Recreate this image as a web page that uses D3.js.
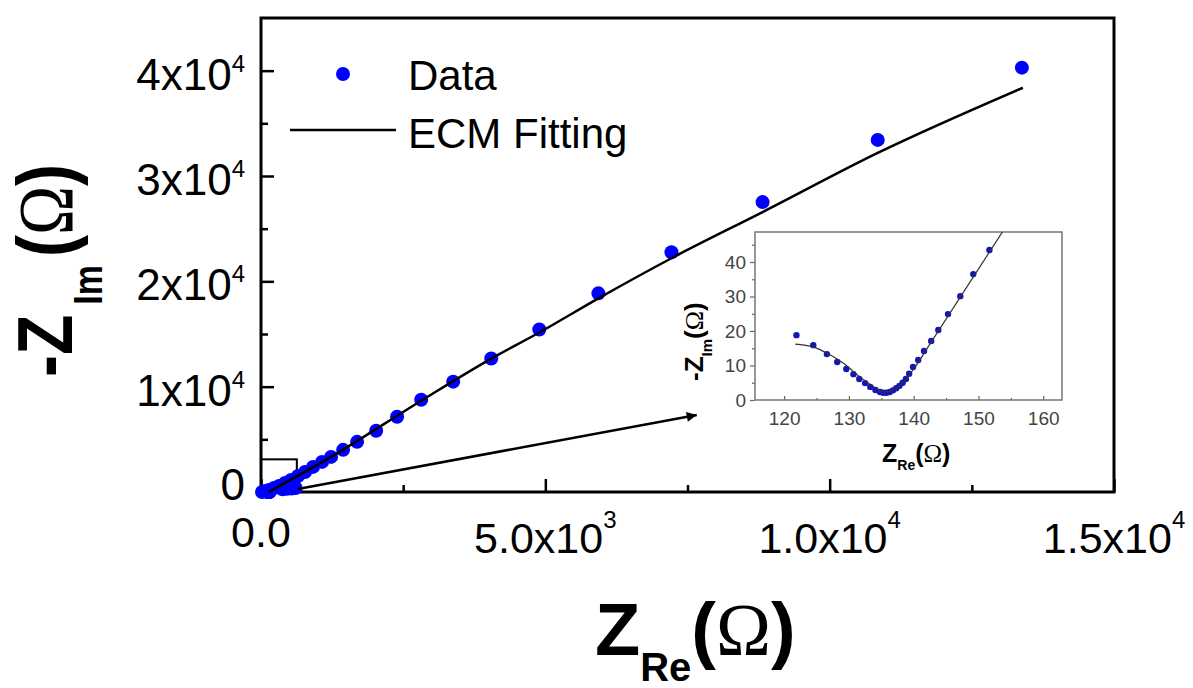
<!DOCTYPE html>
<html><head><meta charset="utf-8">
<script src="https://cdn.jsdelivr.net/npm/d3@7"></script>
<style>body{margin:0;background:#fff}svg{display:block}</style>
</head><body>
<svg id="c" width="1193" height="688"></svg>
<script>
// ---- data ----
const dataRe = [18, 70, 141, 229, 317, 423, 528, 651, 775, 915, 1074, 1232, 1444, 1690, 2025, 2394, 2817, 3380, 4049, 4894, 5933, 7218, 8820, 10845, 13380];
const dataIm = [0, 95, 190, 381, 571, 857, 1143, 1524, 1905, 2381, 2857, 3333, 4000, 4762, 5810, 7143, 8762, 10476, 12667, 15429, 18857, 22762, 27524, 33429, 40286];
const extraRe = [380, 460, 540, 610];
const extraIm = [250, 300, 330, 380];
const fitRe = [135, 1232, 2817, 4049, 4894, 5933, 7218, 8820, 10845, 13398];
const fitIm = [0, 3333, 8667, 12667, 15140, 18380, 22190, 26571, 32190, 38380];

const insetRe = [121.9, 124.5, 126.6, 128.2, 129.6, 130.7, 131.6, 132.5, 133.3, 134.1, 134.8, 135.3, 135.8, 136.3, 136.8, 137.3, 137.8, 138.3, 138.8, 139.3, 139.9, 140.7, 141.6, 142.7, 143.8, 145.3, 147.2, 149.2, 151.7];
const insetIm = [18.8, 15.9, 13.3, 11.0, 9.0, 7.5, 6.1, 4.9, 3.8, 2.9, 2.3, 2.1, 2.1, 2.3, 2.8, 3.4, 4.1, 5.0, 6.1, 7.6, 9.6, 11.6, 14.2, 17.1, 20.3, 24.9, 30.1, 36.5, 43.5];
const insetFitRe = [121.7, 124.5, 126.6, 129.1, 131.7, 134.1, 135.1, 136.4, 137.9, 139.9, 142.5, 153.8];
const insetFitIm = [16.2, 15.4, 13.6, 10.7, 6.7, 3.5, 2.3, 2.6, 4.3, 8.7, 16.2, 49];

const xMajor = [0, 5000, 10000, 15000];
const xMinor = [2500, 7500, 12500];
const xTickText = ["0.0", "5.0x10", "1.0x10", "1.5x10"];
const xTickExp = ["", "3", "4", "4"];
const yMajor = [0, 10000, 20000, 30000, 40000];
const yMinor = [5000, 15000, 25000, 35000];
const yTickText = ["0", "1x10", "2x10", "3x10", "4x10"];
const yTickExp = ["", "4", "4", "4", "4"];
const insetXTicks = [120, 130, 140, 150, 160];
const insetXMinor = [125, 135, 145, 155];
const insetYTicks = [0, 10, 20, 30, 40];
const insetYMinor = [5, 15, 25, 35, 45];
const zoomBox = [630, 3100]; // region marked near the origin
const arrowTip = [7663, 7312];

const legendLabels = ["Data", "ECM Fitting"];

// ---- drawing ----
const svg = d3.select("#c");
const SANS = "'Liberation Sans', Arial, sans-serif";
const SERIF = "'Liberation Serif', 'Times New Roman', serif";
const BLUE = "#0000ff";

const x = d3.scaleLinear().domain([0, 15000]).range([261, 1114]);
const y = d3.scaleLinear().domain([0, 45000]).range([492, 18]);

// axes (inward ticks)
function styleAxis(g){ g.select(".domain").remove(); g.selectAll("line").attr("stroke","#000").attr("stroke-width",2.5); }
svg.append("g").attr("transform",`translate(0,${y(0)})`)
  .call(d3.axisBottom(x).tickValues(xMajor).tickSize(-13).tickFormat("")).call(styleAxis);
svg.append("g").attr("transform",`translate(0,${y(0)})`)
  .call(d3.axisBottom(x).tickValues(xMinor).tickSize(-7).tickFormat("")).call(styleAxis);
svg.append("g").attr("transform",`translate(${x(0)},0)`)
  .call(d3.axisLeft(y).tickValues(yMajor).tickSize(-13).tickFormat("")).call(styleAxis);
svg.append("g").attr("transform",`translate(${x(0)},0)`)
  .call(d3.axisLeft(y).tickValues(yMinor).tickSize(-7).tickFormat("")).call(styleAxis);

// frame
svg.append("rect").attr("x",x(0)).attr("y",y(45000)).attr("width",x(15000)-x(0)).attr("height",y(0)-y(45000))
  .attr("fill","none").attr("stroke","#000").attr("stroke-width",3);

// tick labels
xMajor.forEach((v,i)=>{
  const t = svg.append("text").attr("x",x(v)).attr("y", y(0) + (xTickExp[i] ? 61 : 55))
    .attr("text-anchor","middle").attr("font-family",SANS).attr("font-size",43).attr("fill","#000");
  t.append("tspan").text(xTickText[i]);
  if (xTickExp[i]) t.append("tspan").attr("dy",-25).attr("font-size",24).text(xTickExp[i]);
});
yMajor.forEach((v,i)=>{
  const t = svg.append("text").attr("x",245).attr("y", y(v) + (yTickExp[i] ? 19 : 8))
    .attr("text-anchor","end").attr("font-family",SANS).attr("font-size",44).attr("fill","#000");
  t.append("tspan").text(yTickText[i]);
  if (yTickExp[i]) t.append("tspan").attr("dy",-18).attr("font-size",24).text(yTickExp[i]);
});

// zoom box
svg.append("rect").attr("x",x(0)).attr("y",y(zoomBox[1])).attr("width",x(zoomBox[0])-x(0)).attr("height",y(0)-y(zoomBox[1]))
  .attr("fill","none").attr("stroke","#000").attr("stroke-width",2);

// data points
const pts = dataRe.map((d,i)=>[d,dataIm[i]])
  .concat(extraRe.map((d,i)=>[d,extraIm[i]]))
  .concat(insetRe.map((d,i)=>[d,insetIm[i]]));
svg.append("g").selectAll("circle").data(pts).join("circle")
  .attr("cx",d=>x(d[0])).attr("cy",d=>y(d[1])).attr("r",7).attr("fill",BLUE);

// fit line
svg.append("path").datum(fitRe.map((d,i)=>[d,fitIm[i]]))
  .attr("d", d3.line().x(d=>x(d[0])).y(d=>y(d[1])).curve(d3.curveMonotoneX))
  .attr("fill","none").attr("stroke","#000").attr("stroke-width",2.5);

// arrow
svg.append("defs").append("marker").attr("id","ah").attr("viewBox","0 0 10 10").attr("refX",10).attr("refY",5)
  .attr("markerWidth",16).attr("markerHeight",10).attr("markerUnits","userSpaceOnUse").attr("orient","auto")
  .append("path").attr("d","M0,0 L10,5 L0,10 Z").attr("fill","#000");
svg.append("line").attr("x1",x(zoomBox[0])+1).attr("y1",y(0)-3).attr("x2",x(arrowTip[0])).attr("y2",y(arrowTip[1]))
  .attr("stroke","#000").attr("stroke-width",2.5).attr("marker-end","url(#ah)");

// legend
svg.append("circle").attr("cx",343).attr("cy",74).attr("r",7).attr("fill",BLUE);
svg.append("text").attr("x",408).attr("y",90).attr("font-family",SANS).attr("font-size",42).text(legendLabels[0]);
svg.append("line").attr("x1",290).attr("x2",396).attr("y1",130).attr("y2",130).attr("stroke","#000").attr("stroke-width",2.5);
svg.append("text").attr("x",408).attr("y",148).attr("font-family",SANS).attr("font-size",42).text(legendLabels[1]);

// axis titles
const xt = svg.append("text").attr("x",595).attr("y",655).attr("font-family",SANS).attr("font-weight","bold").attr("font-size",74);
xt.append("tspan").text("Z");
xt.append("tspan").attr("dy",26).attr("font-size",40).text("Re");
xt.append("tspan").attr("dy",-26).text("(");
xt.append("tspan").attr("font-family",SERIF).attr("font-weight","normal").text("Ω");
xt.append("tspan").text(")");

const yt = svg.append("text").attr("transform","translate(72,377) rotate(-90) scale(1,1.17)")
  .attr("font-family",SANS).attr("font-weight","bold").attr("font-size",66);
yt.append("tspan").text("-Z");
yt.append("tspan").attr("dx",10).attr("dy",26).attr("font-size",34).text("Im");
yt.append("tspan").attr("dx",8).attr("dy",-26).text("(");
yt.append("tspan").attr("font-family",SERIF).attr("font-weight","normal").text("Ω");
yt.append("tspan").text(")");

// ---- inset ----
const ix = d3.scaleLinear().domain([115.5, 162.9]).range([755, 1062]);
const iy = d3.scaleLinear().domain([0, 48.7]).range([400, 232]);
const inset = svg.append("g");
inset.append("rect").attr("x",755).attr("y",232).attr("width",1062-755).attr("height",400-232).attr("fill","#fff");
inset.append("clipPath").attr("id","ic").append("rect").attr("x",755).attr("y",232).attr("width",1062-755).attr("height",400-232);

function styleInset(g){ g.select(".domain").remove(); g.selectAll("line").attr("stroke","#666").attr("stroke-width",1.2);
  g.selectAll("text").attr("font-family",SANS).attr("font-size",19).attr("fill","#444"); }
inset.append("g").attr("transform","translate(0,400)")
  .call(d3.axisBottom(ix).tickValues(insetXTicks).tickSize(-4).tickPadding(12).tickFormat(d3.format("d"))).call(styleInset);
inset.append("g").attr("transform","translate(0,400)")
  .call(d3.axisBottom(ix).tickValues(insetXMinor).tickSize(-2).tickFormat("")).call(styleInset);
inset.append("g").attr("transform","translate(755,0)")
  .call(d3.axisLeft(iy).tickValues(insetYTicks).tickSize(5).tickPadding(4).tickFormat(d3.format("d"))).call(styleInset);
inset.append("g").attr("transform","translate(755,0)")
  .call(d3.axisLeft(iy).tickValues(insetYMinor).tickSize(3).tickFormat("")).call(styleInset);
inset.append("rect").attr("x",755).attr("y",232).attr("width",1062-755).attr("height",400-232)
  .attr("fill","none").attr("stroke","#777").attr("stroke-width",1.5);

inset.append("g").attr("clip-path","url(#ic)").selectAll("circle").data(insetRe.map((d,i)=>[d,insetIm[i]])).join("circle")
  .attr("cx",d=>ix(d[0])).attr("cy",d=>iy(d[1])).attr("r",3.2).attr("fill","#1414b8");
inset.append("path").attr("clip-path","url(#ic)").datum(insetFitRe.map((d,i)=>[d,insetFitIm[i]]))
  .attr("d", d3.line().x(d=>ix(d[0])).y(d=>iy(d[1])).curve(d3.curveMonotoneX))
  .attr("fill","none").attr("stroke","#333").attr("stroke-width",1.2);

const ixt = inset.append("text").attr("x",882).attr("y",462).attr("font-family",SANS).attr("font-weight","bold").attr("font-size",25);
ixt.append("tspan").text("Z");
ixt.append("tspan").attr("dy",8).attr("font-size",14).text("Re");
ixt.append("tspan").attr("dy",-8).text("(");
ixt.append("tspan").attr("font-family",SERIF).attr("font-weight","normal").text("Ω");
ixt.append("tspan").text(")");

const iyt = inset.append("text").attr("transform","translate(703,381) rotate(-90)")
  .attr("font-family",SANS).attr("font-weight","bold").attr("font-size",26);
iyt.append("tspan").text("-Z");
iyt.append("tspan").attr("dy",9).attr("font-size",15).text("Im");
iyt.append("tspan").attr("dy",-9).text("(");
iyt.append("tspan").attr("font-family",SERIF).attr("font-weight","normal").text("Ω");
iyt.append("tspan").text(")");
</script>
</body></html>
